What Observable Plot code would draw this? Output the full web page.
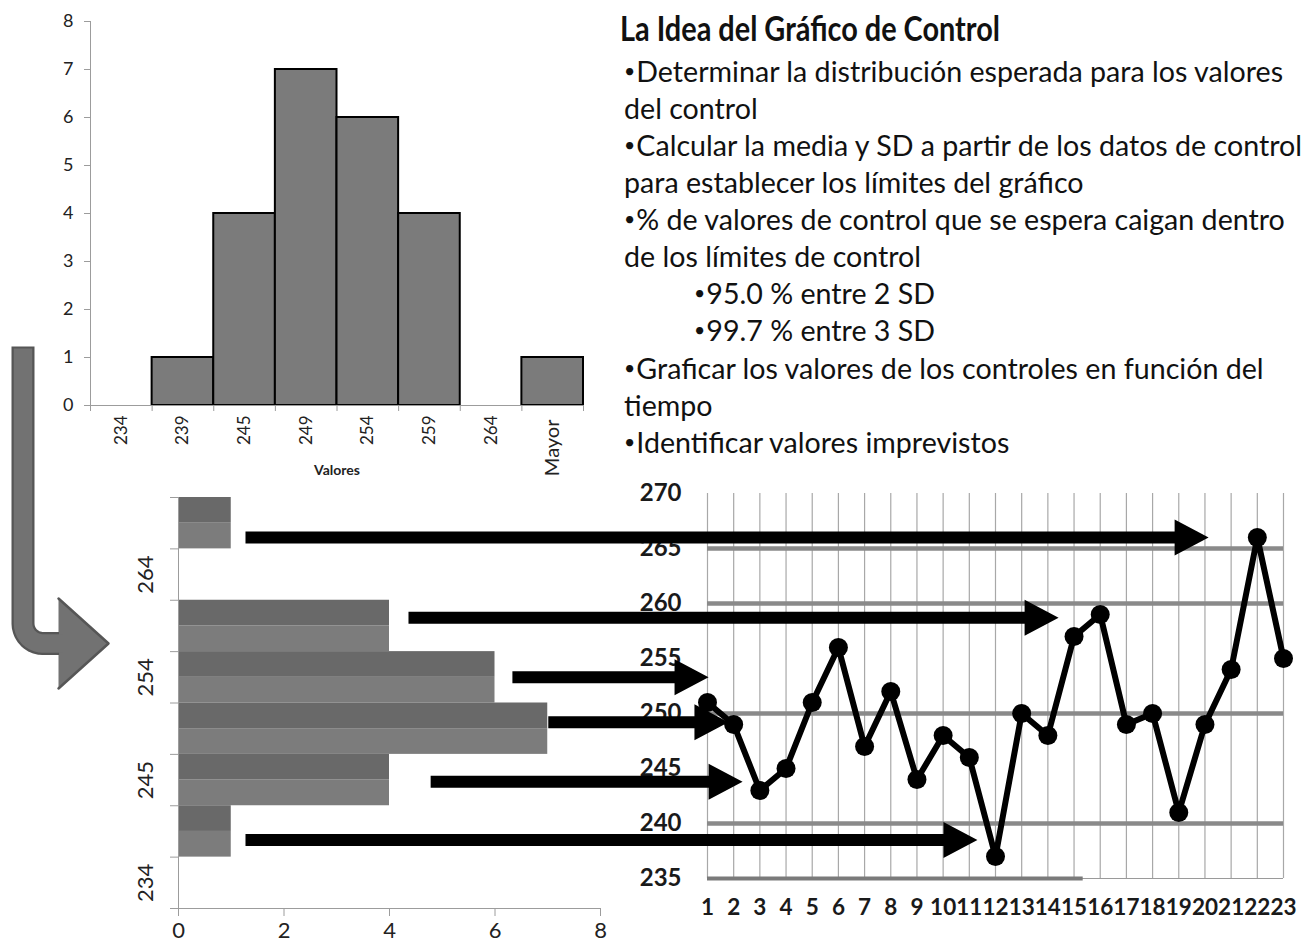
<!DOCTYPE html>
<html><head><meta charset="utf-8">
<script src="https://cdn.jsdelivr.net/npm/d3@7"></script>
<script src="https://cdn.jsdelivr.net/npm/@observablehq/plot@0.6"></script>
<style>
body{margin:0;background:#fff;}
#page{position:relative;width:1314px;height:948px;overflow:hidden;font-family:Lato,"Open Sans",sans-serif;background:#fff;}
.panel{position:absolute;}
.panel svg{overflow:visible;}
#text{position:absolute;left:0;top:0;color:#111;}
.ln{position:absolute;white-space:nowrap;font-size:28px;line-height:37px;transform-origin:0 0;}
.ln .b{font-size:19px;position:relative;top:-4px;margin-right:1px;}
.ttl{position:absolute;white-space:nowrap;font-size:35px;line-height:40px;font-weight:bold;transform-origin:0 0;}
</style></head><body><div id="page"></div><script>
// ---------- data ----------
const bins = ["234","239","245","249","254","259","264","Mayor"];
const counts = [0,1,4,7,6,4,0,1];
const runIndex = d3.range(1,24);
const controlValues = [251,249,243,245,251,256,247,252,244,248,246,237,250,248,257,259,249,250,241,249,254,266,255];
const limitLevels = [240,250,260,265];
const yTicksC = [235,240,245,250,255,260,265,270];
const binLabelIdx = [0,2,4,6];
const countTicks = [0,2,4,6,8];
const arrowFromCount = [1.27,4.36,6.33,7.01,4.78,1.27];
const arrowToRun = [20.14,14.41,1.04,1.80,2.34,11.31];
const arrowLevel = [266.0,258.7,253.3,249.2,243.8,238.5];
const titleText = "La Idea del Gráfico de Control";
const bulletLines = [
 "•Determinar la distribución esperada para los valores",
 "del control",
 "•Calcular la media y SD a partir de los datos de control",
 "para establecer los límites del gráfico",
 "•% de valores de control que se espera caigan dentro",
 "de los límites de control",
 "•95.0 % entre 2 SD",
 "•99.7 % entre 3 SD",
 "•Graficar los valores de los controles en función del",
 "tiempo",
 "•Identificar valores imprevistos"
];
const bulletIndent = [0,0,0,0,0,0,1,1,0,0,0];

// ---------- helpers ----------
const page = document.getElementById("page");
function place(el, left, top){ const d=document.createElement("div"); d.className="panel"; d.style.left=left+"px"; d.style.top=top+"px"; d.appendChild(el); page.appendChild(d); return el; }
const axisGray = "#9c9c9c";
const font = "Lato, 'Open Sans', sans-serif";
const histData = bins.map((b,i)=>({bin:b, i, count:counts[i]}));

// ---------- chart A: vertical histogram ----------
const chartA = Plot.plot({
  width:600, height:480, marginLeft:90, marginRight:17, marginTop:21, marginBottom:75,
  style:{background:"transparent", fontFamily:font, color:"#222", overflow:"visible"},
  x:{domain:[0,8], axis:null}, y:{domain:[0,8], axis:null},
  marks:[
    Plot.rect(histData.filter(d=>d.count>0), {x1:"i", x2:d=>d.i+1, y1:0, y2:"count", fill:"#7b7b7b", stroke:"#000", strokeWidth:2}),
    Plot.ruleX([0], {y1:0, y2:8, stroke:axisGray}),
    Plot.ruleY([0], {x1:0, x2:8, stroke:axisGray}),
    Plot.axisY({ticks:d3.range(0,9), tickSize:6, tickPadding:11, fontSize:18, stroke:axisGray, fill:"#222", label:null}),
    Plot.axisX({ticks:d3.range(0,9), tickSize:6, tickFormat:()=>"", stroke:axisGray, label:null}),
    Plot.text(histData.filter(d=>d.bin!=="Mayor"), {x:d=>d.i+0.5, y:0, text:"bin", dy:10, rotate:-90, textAnchor:"end", fontSize:17, fill:"#222"}),
    Plot.text(histData.filter(d=>d.bin==="Mayor"), {x:d=>d.i+0.5, y:0, text:"bin", dy:14, rotate:-90, textAnchor:"end", fontSize:20, fill:"#222"}),
    Plot.text(["Valores"], {x:4, y:0, text:d=>d, dy:65, fontWeight:"bold", fontSize:14, fill:"#222"})
  ]
});
place(chartA, 0, 0);

// ---------- chart B: horizontal histogram ----------
const chartB = Plot.plot({
  width:620, height:478, marginLeft:178, marginRight:20, marginTop:27, marginBottom:40,
  style:{background:"transparent", fontFamily:font, color:"#222", overflow:"visible"},
  x:{domain:[0,8], axis:null}, y:{domain:[0,8], axis:null},
  marks:[
    Plot.rect(histData.filter(d=>d.count>0), {x1:0, x2:"count", y1:"i", y2:d=>d.i+0.5, fill:"#7c7c7c"}),
    Plot.rect(histData.filter(d=>d.count>0), {x1:0, x2:"count", y1:d=>d.i+0.5, y2:d=>d.i+1, fill:"#696969"}),
    Plot.ruleX([0], {y1:0, y2:8, stroke:axisGray}),
    Plot.ruleY([0], {x1:0, x2:8, stroke:axisGray}),
    Plot.axisY({ticks:d3.range(0,9), tickSize:8, tickFormat:()=>"", stroke:axisGray, label:null}),
    Plot.text(binLabelIdx.map(i=>histData[i]), {x:0, y:d=>d.i+0.5, text:"bin", dx:-33, rotate:-90, fontSize:22, fill:"#222"}),
    Plot.axisX({ticks:countTicks, tickSize:8, tickPadding:6, fontSize:22, stroke:axisGray, fill:"#222", label:null})
  ]
});
place(chartB, 0, 470);

// ---------- chart C: control chart ----------
const runData = runIndex.map((r,i)=>({run:r, value:controlValues[i]}));
const chartC = Plot.plot({
  width:714, height:478, marginLeft:107, marginRight:31, marginTop:23, marginBottom:70,
  style:{background:"transparent", fontFamily:font, color:"#111", overflow:"visible"},
  x:{domain:[1,23], axis:null}, y:{domain:[235,270], axis:null},
  marks:[
    Plot.ruleX(runIndex, {y1:235, y2:270, stroke:"#a8a8a8", strokeWidth:1.2}),
    Plot.ruleY([235], {x1:1, x2:23, stroke:"#9a9a9a", strokeWidth:1.2}),
    Plot.ruleY([235], {x1:1, x2:15.35, stroke:"#7a7a7a", strokeWidth:4}),
    Plot.ruleY(limitLevels, {x1:1, x2:23, stroke:"#8a8a8a", strokeWidth:4.5}),
    Plot.line(runData, {x:"run", y:"value", stroke:"#000", strokeWidth:6, strokeLinejoin:"round"}),
    Plot.dot(runData, {x:"run", y:"value", r:9.5, fill:"#000"}),
    Plot.axisY({ticks:yTicksC, tickSize:0, tickPadding:26, fontSize:24, fontWeight:"bold", fill:"#1a1a1a", label:null}),
    Plot.axisX({ticks:runIndex, tickSize:0, tickPadding:21, fontSize:22.5, fontWeight:"bold", fill:"#1a1a1a", label:null})
  ]
});
place(chartC, 600, 470);

// ---------- overlay: arrows ----------
const sxB = chartB.scale("x"), sxC = chartC.scale("x"), syC = chartC.scale("y");
const shaft = 6, headH = 18, headL = 34;
const arrowPts = [];
arrowFromCount.forEach((c,k)=>{
  const x0 = sxB.apply(c) + 0, x1 = sxC.apply(arrowToRun[k]) + 600, y = syC.apply(arrowLevel[k]) + 470;
  [[x0,y-shaft],[x1-headL,y-shaft],[x1-headL,y-headH],[x1,y],[x1-headL,y+headH],[x1-headL,y+shaft],[x0,y+shaft]]
    .forEach(([x,yy])=>arrowPts.push({id:k, x, y:yy}));
});
// big curved gray arrow (decoration)
const bx = 22.5, byTop = 346, byH = 643, r = 20;
const curve = [{x:bx, y:byTop}];
d3.range(0, 1.0001, 0.1).forEach(t=>{ const a = t*Math.PI/2; curve.push({x: bx + r - r*Math.cos(a), y: byH - r + r*Math.sin(a)}); });
const head = [{x:58,y:598},{x:108,y:643},{x:58,y:688}];
const overlay = Plot.plot({
  width:1314, height:948, margin:0,
  style:{background:"transparent", overflow:"visible"},
  x:{type:"identity", axis:null}, y:{type:"identity", axis:null},
  marks:[
    Plot.line(head, {x:"x", y:"y", fill:"#727272", stroke:"#565656", strokeWidth:2.5, strokeLinejoin:"round"}),
    Plot.line([...curve, {x:58.5,y:byH}], {x:"x", y:"y", stroke:"#565656", strokeWidth:23, strokeLinecap:"butt", curve:"linear"}),
    Plot.line([{x:bx,y:byTop+2}, ...curve.slice(1), {x:63,y:byH}], {x:"x", y:"y", stroke:"#727272", strokeWidth:18.5, strokeLinecap:"butt", curve:"linear"}),
    Plot.line(arrowPts, {x:"x", y:"y", z:"id", fill:"#000", stroke:"none"})
  ]
});
place(overlay, 0, 0);

// ---------- text block ----------
const tb = document.createElement("div"); tb.id="text"; page.appendChild(tb);
const t = document.createElement("div"); t.className="ttl"; t.textContent=titleText; t.style.left="620px"; t.style.top="7px"; tb.appendChild(t);
const lineEls = bulletLines.map((s,i)=>{
  const d=document.createElement("div"); d.className="ln";
  if (s.startsWith("•")) {
    const b=document.createElement("span"); b.className="b"; b.textContent="•"; d.appendChild(b);
    d.appendChild(document.createTextNode(s.slice(1)));
  } else d.textContent=s;
  d.style.left=(624 + bulletIndent[i]*70)+"px"; d.style.top=(52.7 + i*37.1)+"px"; tb.appendChild(d); return d;
});
const k = 678 / lineEls[2].getBoundingClientRect().width;
lineEls.forEach(d=>{ d.style.transform=`scaleX(${k})`; });
const kt = 380 / t.getBoundingClientRect().width;
t.style.transform=`scaleX(${kt})`;
</script></body></html>
